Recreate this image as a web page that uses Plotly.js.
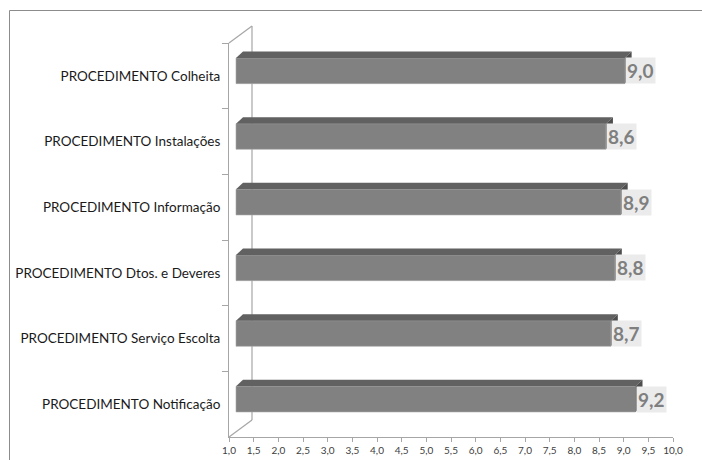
<!DOCTYPE html>
<html>
<head>
<meta charset="utf-8">
<script src="https://cdn.plot.ly/plotly-3.0.1.min.js"></script>
<style>html,body{margin:0;padding:0;background:#fff;}#chart{width:702px;height:460px;}</style>
</head>
<body>
<div id="chart"></div>
<script>
// Categories, top to bottom as in the picture
const categories = [
  "PROCEDIMENTO Colheita",
  "PROCEDIMENTO Instalações",
  "PROCEDIMENTO Informação",
  "PROCEDIMENTO Dtos. e Deveres",
  "PROCEDIMENTO Serviço Escolta",
  "PROCEDIMENTO Notificação"
];
// Values (labels show one decimal)
const values = [9.02, 8.64, 8.94, 8.82, 8.74, 9.24];
const xTickVals = [1,1.5,2,2.5,3,3.5,4,4.5,5,5.5,6,6.5,7,7.5,8,8.5,9,9.5,10];

// geometry (pixels)
const W = 702, H = 460;
const L = 229, R = 673, T = 43, B = 437;
const pxPerX = (R - L) / 9;
const pxPerY = (B - T) / 6;
const base = 1 + 7 / pxPerX;          // bars start 7px in front of axis (3D floor)
const shiftUp = 5 / pxPerY;           // bar centre raised by 3D depth
const halfH = 12.8 / pxPerY;          // front face half height
const dX = 7 / pxPerX, dY = 6.5 / pxPerY; // depth of the bar top

const labels = values.map(v => v.toFixed(1).replace('.', ','));

const trace = {
  type: 'bar', orientation: 'h',
  y: categories,
  x: values.map(v => v - base),
  base: base,
  width: 2 * halfH,
  offset: -shiftUp - halfH,
  marker: {color: '#818181', line: {color: '#a8a8a8', width: 0.6}},
  hoverinfo: 'skip'
};

const shapes = [];
values.forEach((v, i) => {
  const top = i - shiftUp - halfH, bot = i - shiftUp + halfH;
  shapes.push({type: 'path', xref: 'x', yref: 'y', layer: 'above',
    path: `M${base},${top} L${base + dX},${top - dY} L${v + dX},${top - dY} L${v},${top} Z`,
    fillcolor: '#616161', line: {width: 0}});
  shapes.push({type: 'path', xref: 'x', yref: 'y', layer: 'above',
    path: `M${v},${top} L${v + dX},${top - dY} L${v + dX},${bot - dY} L${v},${bot} Z`,
    fillcolor: '#4e4e4e', line: {width: 0}});
});

// 3D wall lines
const px2paperX = p => (p - L) / (R - L);
const px2paperY = p => (B - p) / (B - T);
const wall = {color: '#a6a6a6', width: 1.2};
shapes.push({type: 'line', xref: 'paper', yref: 'paper', x0: px2paperX(229), y0: px2paperY(437), x1: px2paperX(252), y1: px2paperY(420), line: wall});
shapes.push({type: 'line', xref: 'paper', yref: 'paper', x0: px2paperX(229), y0: px2paperY(43), x1: px2paperX(252), y1: px2paperY(26), line: wall});
shapes.push({type: 'line', xref: 'paper', yref: 'paper', x0: px2paperX(252), y0: px2paperY(26), x1: px2paperX(252), y1: px2paperY(420), line: wall, layer: 'below'});
// outer frame
const frame = {color: '#8c8c8c', width: 1};
shapes.push({type: 'line', xref: 'paper', yref: 'paper', x0: px2paperX(9.5), y0: px2paperY(10.5), x1: px2paperX(9.5), y1: px2paperY(462), line: frame});
shapes.push({type: 'line', xref: 'paper', yref: 'paper', x0: px2paperX(9.5), y0: px2paperY(10.5), x1: px2paperX(705), y1: px2paperY(10.5), line: frame});

const annotations = values.map((v, i) => ({
  x: v, y: i - shiftUp, xref: 'x', yref: 'y',
  xanchor: 'left', yanchor: 'middle', showarrow: false,
  text: '<b>' + labels[i] + '</b>',
  font: {family: 'Lato, "Open Sans", sans-serif', size: 19, color: '#7f7f7f'},
  bgcolor: '#ebebeb', borderpad: 1
}));

const layout = {
  width: W, height: H, autosize: false,
  margin: {l: L, r: W - R, t: T, b: H - B, pad: 0},
  paper_bgcolor: '#ffffff', plot_bgcolor: 'rgba(0,0,0,0)',
  separators: ',.',
  showlegend: false,
  bargap: 0,
  xaxis: {
    range: [1, 10], tickvals: xTickVals, tickformat: '.1f',
    showgrid: false, zeroline: false,
    showline: true, linecolor: '#a6a6a6', linewidth: 1,
    ticks: 'outside', ticklen: 4, tickcolor: '#a6a6a6',
    tickfont: {family: 'Lato, "Open Sans", sans-serif', size: 10, color: '#404040'},
    fixedrange: true
  },
  yaxis: {
    type: 'category', range: [5.5, -0.5],
    categoryorder: 'array', categoryarray: categories,
    showgrid: false, zeroline: false,
    showline: true, linecolor: '#a6a6a6', linewidth: 1,
    ticks: 'outside', ticklen: 6, tickcolor: '#a6a6a6', tickson: 'boundaries',
    ticklabelstandoff: 5,
    tickfont: {family: 'Lato, "Open Sans", sans-serif', size: 13.5, color: '#1a1a1a'},
    fixedrange: true
  },
  shapes: shapes,
  annotations: annotations
};

Plotly.newPlot('chart', [trace], layout, {displayModeBar: false, staticPlot: true});
</script>
</body>
</html>
